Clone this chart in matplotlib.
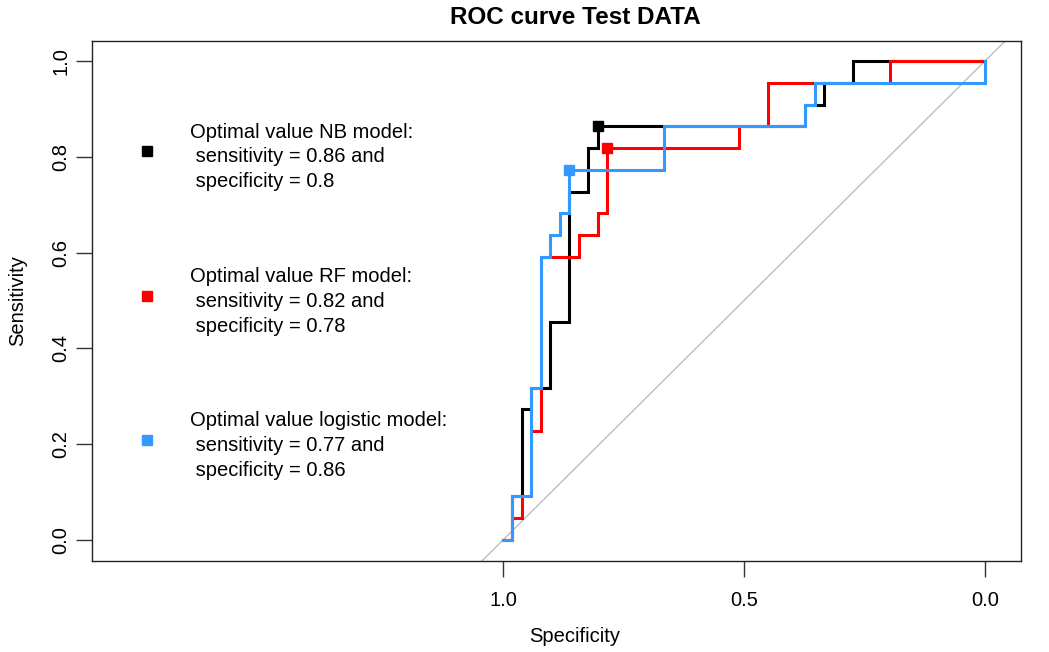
import matplotlib.pyplot as plt

plt.rcParams['font.family'] = ['Liberation Sans', 'DejaVu Sans']

N_NEG = 51
N_POS = 22

# ROC staircase points as (false positives, true positives) counts
nb_fp = [0, 1, 1, 2, 2, 3, 3, 5, 5, 7, 7, 9, 9, 10, 10, 32, 32, 34, 34, 37, 37, 51]
nb_tp = [0, 0, 2, 2, 6, 6, 7, 7, 10, 10, 16, 16, 18, 18, 19, 19, 20, 20, 21, 21, 22, 22]

rf_fp = [0, 1, 1, 2, 2, 3, 3, 4, 4, 8, 8, 10, 10, 11, 11, 25, 25, 28, 28, 41, 41, 51]
rf_tp = [0, 0, 1, 1, 2, 2, 5, 5, 13, 13, 14, 14, 15, 15, 18, 18, 19, 19, 21, 21, 22, 22]

lg_fp = [0, 1, 1, 3, 3, 4, 4, 5, 5, 6, 6, 7, 7, 17, 17, 32, 32, 33, 33, 51, 51]
lg_tp = [0, 0, 2, 2, 7, 7, 13, 13, 14, 14, 15, 15, 17, 17, 19, 19, 20, 20, 21, 21, 22]

# optimal thresholds (specificity, sensitivity)
nb_best = (41 / 51, 19 / 22)
rf_best = (40 / 51, 18 / 22)
lg_best = (44 / 51, 17 / 22)

models = [
    ('NB', nb_fp, nb_tp, nb_best, 'black'),
    ('RF', rf_fp, rf_tp, rf_best, '#FF0000'),
    ('logistic', lg_fp, lg_tp, lg_best, '#3399FF'),
]

fig = plt.figure(figsize=(10.49, 6.52), dpi=100)
W, H = 1049, 652
ax = fig.add_axes([92 / W, 1 - 561 / H, 929 / W, 520 / H])

ax.axline((1, 0), (0, 1), color='#BEBEBE', lw=1, zorder=1)

for name, fp, tp, best, col in models:
    spec = [1 - f / N_NEG for f in fp]
    sens = [t / N_POS for t in tp]
    ax.plot(spec, sens, color=col, lw=2.2, solid_joinstyle='miter', zorder=2)
    ax.plot(best[0], best[1], 's', color=col, ms=7.5, zorder=3)

ax.set_xlim(1.8527, -0.0747)
ax.set_ylim(-0.0438, 1.0418)
ax.set_xticks([1.0, 0.5, 0.0])
ax.set_xticklabels(['1.0', '0.5', '0.0'])
ax.set_yticks([0.0, 0.2, 0.4, 0.6, 0.8, 1.0])
ax.set_yticklabels(['0.0', '0.2', '0.4', '0.6', '0.8', '1.0'], rotation=90, va='center')
ax.tick_params(axis='both', labelsize=14.5, length=11.5, width=1, direction='out', color='#333333')
ax.tick_params(axis='x', pad=10)
ax.tick_params(axis='y', pad=4)
for s in ax.spines.values():
    s.set_linewidth(1)
    s.set_color('#222222')

fig.text(575 / W, 1 - 17 / H, 'ROC curve Test DATA', ha='center', va='center',
         fontsize=17.5, fontweight='bold')
fig.text(575 / W, 1 - 636 / H, 'Specificity', ha='center', va='center', fontsize=14.5)
fig.text(18 / W, 1 - 301 / H, 'Sensitivity', ha='center', va='center', rotation=90, fontsize=14.5)

# legend entries for the optimal points
leg_rows = [151, 296, 440]
for (name, fp, tp, best, col), yc in zip(models, leg_rows):
    fig.lines.append(plt.Line2D([147 / W], [1 - yc / H], marker='s', color=col, ms=6.5,
                                transform=fig.transFigure))
    lines = [
        f'Optimal value {name} model:',
        f' sensitivity = {round(best[1], 2):g} and',
        f' specificity = {round(best[0], 2):g}',
    ]
    for k, txt in enumerate(lines):
        y = yc - 19 + k * 24.5
        fig.text(190 / W, 1 - y / H, txt, ha='left', va='center', fontsize=14.5)

fig.savefig('out.png', dpi=100)
